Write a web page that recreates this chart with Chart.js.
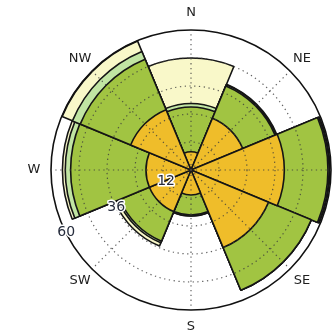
<!DOCTYPE html>
<html><head><meta charset="utf-8">
<script src="https://cdn.jsdelivr.net/npm/chart.js@4.4.0/dist/chart.umd.min.js"></script>
<style>html,body{margin:0;padding:0;background:#fff;overflow:hidden}canvas{display:block}</style>
</head><body>
<canvas id="c" width="335" height="332"></canvas>
<script>
// Wind directions (sectors, clockwise from north)
const directions = ['N', 'NE', 'E', 'SE', 'S', 'SW', 'W', 'NW'];
// Frequency per speed bin, per direction (stacked outward)
const speedBin1 = [7.8, 24.0, 40.0, 36.0, 10.7, 19.3, 19.3, 28.0];   // orange
const speedBin2 = [19.2, 15.0, 18.7, 19.8, 8.6, 13.7, 32.3, 23.4];   // green
const speedBin3 = [1.5, 0.5, 0.5, 0.0, 0.4, 0.8, 2.3, 3.6];          // light green
const speedBin4 = [19.5, 0.3, 0.3, 0.0, 0.0, 1.5, 1.2, 4.8];         // pale yellow
const radialTickLabels = [12, 36, 60];
const radialMax = 60;
const radialStep = 12;

const bins = [speedBin1, speedBin2, speedBin3, speedBin4];
const binColors = ['#efbd2a', '#a1c442', '#c1e5a3', '#f9f8c9'];
const cumulative = [];
bins.forEach((b, k) => {
  cumulative.push(b.map((v, i) => v + (k ? cumulative[k - 1][i] : 0)));
});
// 16 angular slots so that grid spokes / labels fall on compass points
const angleLabels = directions.flatMap(d => ['', d]);

const labelPlugin = {
  id: 'roseLabels',
  afterDraw(chart) {
    const s = chart.scales.r;
    const c = chart.ctx;
    c.save();
    c.textAlign = 'center';
    c.textBaseline = 'middle';
    c.font = '13px "DejaVu Sans"';
    c.fillStyle = '#1e1e1e';
    directions.forEach((d, i) => {
      const p = s.getPointPosition(2 * i + 1, s.drawingArea + 17);
      c.fillText(d, p.x, p.y);
    });
    c.font = '14px "DejaVu Sans"';
    radialTickLabels.forEach(v => {
      const p = s.getPointPosition(1, s.getDistanceFromCenterForValue(v), 243 * Math.PI / 180);
      c.lineWidth = 3;
      c.strokeStyle = '#fff';
      c.lineJoin = 'round';
      c.strokeText(String(v), p.x, p.y - 1);
      c.fillStyle = '#262c3c';
      c.fillText(String(v), p.x, p.y - 1);
    });
    c.restore();
  }
};

new Chart(document.getElementById('c'), {
  type: 'polarArea',
  data: {
    labels: angleLabels,
    datasets: cumulative.map((data, k) => ({
      data: data,
      backgroundColor: binColors[k],
      borderColor: '#151515',
      borderWidth: 1.6
    }))
  },
  options: {
    responsive: false,
    animation: false,
    layout: { padding: { left: 51, top: 30, right: 3, bottom: 22 } },
    plugins: { legend: { display: false }, tooltip: { enabled: false } },
    scales: {
      r: {
        min: 0,
        max: radialMax,
        startAngle: -22.5,
        ticks: { display: false, stepSize: radialStep },
        pointLabels: { display: false },
        grid: {
          z: 1,
          circular: true,
          color: ctx => ctx.tick && ctx.tick.value === radialMax ? '#111' : 'rgba(60,60,60,0.8)',
          lineWidth: ctx => ctx.tick && ctx.tick.value === radialMax ? 1.6 : 1.2
        },
        border: { dash: ctx => ctx.tick && ctx.tick.value === radialMax ? [] : [1.3, 3.5] },
        angleLines: {
          display: true,
          color: 'rgba(60,60,60,0.8)',
          lineWidth: ctx => ctx.label ? 1.2 : 0,
          borderDash: [1.3, 3.5]
        }
      }
    }
  },
  plugins: [labelPlugin]
});
</script>
</body></html>
